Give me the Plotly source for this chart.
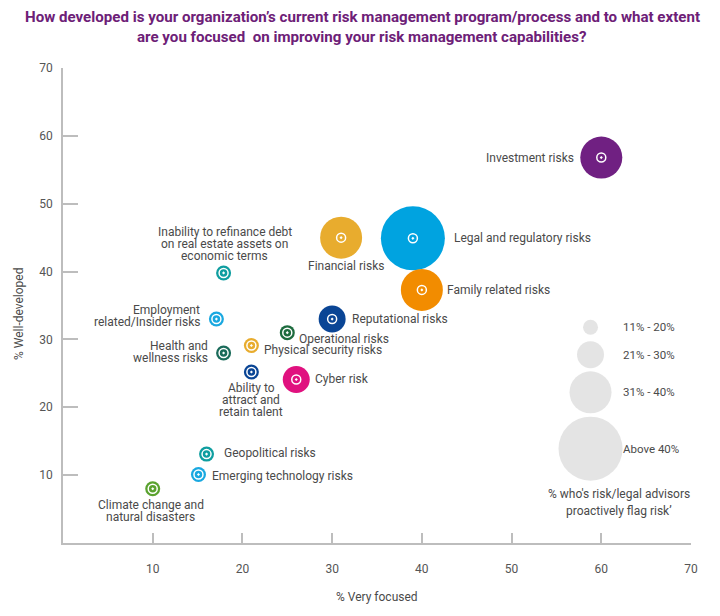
import plotly.graph_objects as go

# Dados
riscos = [
    "Investment risks", "Legal and regulatory risks", "Financial risks",
    "Family related risks", "Reputational risks", "Operational risks",
    "Inability to refinance debt<br>on real estate assets on<br>economic terms",
    "Employment<br>related/Insider risks", "Physical security risks",
    "Health and<br>wellness risks", "Ability to<br>attract and<br>retain talent",
    "Cyber risk", "Geopolitical risks", "Emerging technology risks",
    "Climate change and<br>natural disasters",
]
muito_focado = [60, 39, 31, 40, 30, 25, 17.9, 17.1, 21, 17.9, 21, 26, 16, 15.1, 10]
bem_desenvolvido = [56.8, 44.9, 45, 37.3, 33, 31, 39.8, 33, 29.1, 28, 25.2, 24.1, 13.1, 10.1, 8]
# faixa de "% who's risk/legal advisors proactively flag risk" (1 = 11-20% ... 4 = acima de 40%)
faixa_alerta = [3, 4, 3, 3, 2, 1, 1, 1, 1, 1, 1, 2, 1, 1, 1]

faixas_legenda = ["11% - 20%", "21% - 30%", "31% - 40%", "Above 40%"]
faixas_legenda_id = [1, 2, 3, 4]

titulo = [
    "How developed is your organization’s current risk management program/process and to what extent",
    "are you focused  on improving your risk management capabilities?",
]

# Estilos
cores = ["#702082", "#00a3e0", "#e8ac2e", "#f28c00", "#0a4595", "#1d6b3e",
         "#0f9ea0", "#19a8e0", "#e8ac2e", "#1a6b5a", "#0a4595", "#e0117f",
         "#0f9ea0", "#19a8e0", "#5aa22f"]
diametro = {1: 15, 2: 27, 3: 42, 4: 64}
# posição dos rótulos: (xanchor, xshift, yshift)
pos_rotulo = [
    ("right", -25, 0), ("left", 39, 0), ("center", 5, -28), ("left", 23, 0),
    ("left", 18, 0), ("left", 10, -6), ("center", 1, 29), ("right", -14, 3),
    ("left", 11, -4), ("right", -14, 1), ("center", 0, -28), ("left", 17, 0),
    ("left", 15, 1), ("left", 12, -2), ("center", -2, -22),
]
entrelinha = 12
# legenda de tamanhos (posição em coordenadas dos dados)
leg_x = 58.8
leg_y = [31.8, 27.75, 22.2, 13.9]

fonte = "Roboto, Arial, sans-serif"
cinza_txt = "#4a4a4a"

fig = go.Figure()

# Bolhas
fig.add_trace(go.Scatter(
    x=muito_focado, y=bem_desenvolvido, mode="markers",
    marker=dict(size=[diametro[f] for f in faixa_alerta], color=cores,
                opacity=1, line=dict(width=0)),
    hoverinfo="skip", showlegend=False,
))
# Marcador interno branco
fig.add_trace(go.Scatter(
    x=muito_focado, y=bem_desenvolvido, mode="markers",
    marker=dict(symbol="circle-open-dot", size=9, color="white",
                line=dict(width=1.5, color="white")),
    hoverinfo="skip", showlegend=False,
))

# Rótulos (uma anotação por linha, para manter a entrelinha curta)
for nome, xv, yv, (anc, dx, dy) in zip(riscos, muito_focado, bem_desenvolvido, pos_rotulo):
    linhas = nome.split("<br>")
    n = len(linhas)
    for i, linha in enumerate(linhas):
        fig.add_annotation(
            x=xv, y=yv, text=linha, showarrow=False,
            xanchor=anc, yanchor="middle", xshift=dx,
            yshift=dy + (n - 1) / 2 * entrelinha - i * entrelinha,
            font=dict(family=fonte, size=12, color=cinza_txt),
        )

# Legenda de tamanhos
fig.add_trace(go.Scatter(
    x=[leg_x] * len(faixas_legenda_id), y=leg_y, mode="markers",
    marker=dict(size=[diametro[f] for f in faixas_legenda_id], color="#d9d9d9",
                line=dict(width=0)),
    hoverinfo="skip", showlegend=False,
))
for txt, yv in zip(faixas_legenda, leg_y):
    fig.add_annotation(
        x=leg_x, y=yv, text=txt, showarrow=False, xanchor="left",
        xshift=30, font=dict(family=fonte, size=11.5, color=cinza_txt),
    )
for i, txt in enumerate(["% who's risk/legal advisors", "proactively flag risk’"]):
    fig.add_annotation(
        x=leg_x, y=leg_y[-1], text=txt, showarrow=False,
        xanchor="center", yanchor="middle", xshift=28, yshift=-45 - i * 17,
        font=dict(family=fonte, size=12, color=cinza_txt),
    )

# Título em duas linhas
for i, txt in enumerate(titulo):
    fig.add_annotation(
        x=0.5, y=1, xref="paper", yref="paper", text=txt, showarrow=False,
        xanchor="center", yanchor="middle", xshift=-15, yshift=51 - i * 20,
        font=dict(family=fonte, size=15.1, color="#6d2077", weight="bold"),
    )

# Títulos dos eixos
fig.add_annotation(
    x=0.5, y=0, xref="paper", yref="paper", text="% Very focused",
    showarrow=False, xanchor="center", yanchor="middle", yshift=-54,
    font=dict(family=fonte, size=12, color=cinza_txt),
)
fig.add_annotation(
    x=0, y=0.482, xref="paper", yref="paper", text="% Well-developed",
    showarrow=False, textangle=-90, xanchor="center", yanchor="middle", xshift=-44,
    font=dict(family=fonte, size=12, color=cinza_txt),
)

eixo = dict(
    range=[0, 70], tickvals=[10, 20, 30, 40, 50, 60, 70],
    showgrid=False, zeroline=False, showline=True, linecolor="#bdbdbd",
    linewidth=1.5, ticks="inside", tickcolor="#bdbdbd", tickwidth=1.5,
    tickfont=dict(family=fonte, size=12, color="#555555"),
)
fig.update_xaxes(**eixo, ticklen=10, ticklabelstandoff=14)
fig.update_yaxes(**eixo, ticklen=15, ticklabelstandoff=6)

# margens deslocadas para compensar a margem de 8 px do <body>
fig.update_layout(
    width=720, height=616,
    margin=dict(l=55, r=37, t=60, b=81),
    plot_bgcolor="white", paper_bgcolor="white",
    showlegend=False,
)

fig.write_html("out.html")
